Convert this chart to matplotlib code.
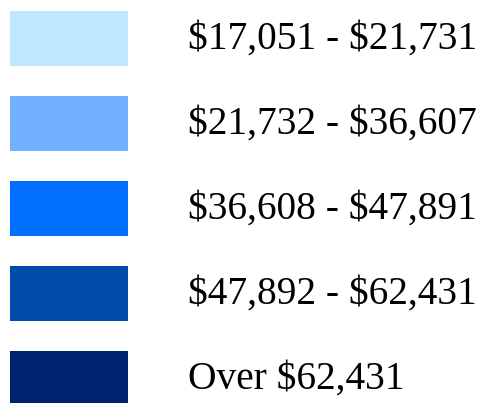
import matplotlib
matplotlib.use("Agg")
import matplotlib.pyplot as plt
import numpy as np

# legend classes (median income ranges)
labels = [
    "$17,051 - $21,731",
    "$21,732 - $36,607",
    "$36,608 - $47,891",
    "$47,892 - $62,431",
    "Over $62,431",
]
colors = ["#BFE7FF", "#72B1FF", "#006FFF", "#004CA9", "#00236F"]

fig = plt.figure(figsize=(4.9, 4.03), dpi=100)
ax = fig.add_axes([0, 0, 1, 1])
ax.set_xlim(0, 490)
ax.set_ylim(403, 0)
ax.axis("off")

y = 38.5 + 85 * np.arange(len(labels))
ax.barh(y, 118, left=10, height=55, color=colors)

for yi, lab in zip(y, labels):
    ax.text(188, yi + 1, lab.replace("$", r"\$"), fontsize=28.4,
            family="Liberation Serif", va="center", ha="left", color="black")

fig.savefig("out.png", dpi=100)
